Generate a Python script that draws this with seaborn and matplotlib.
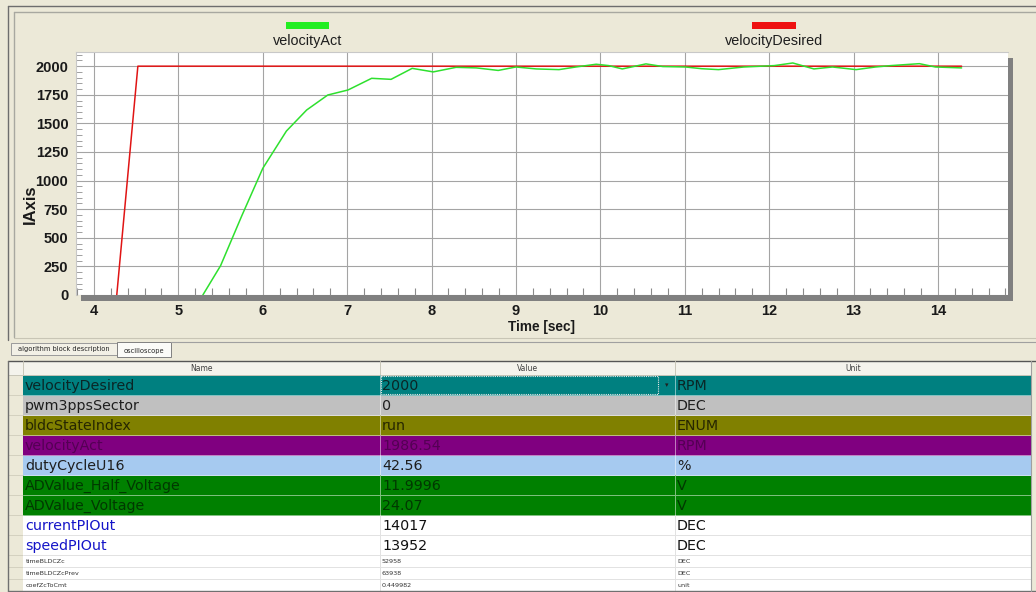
import numpy as np
import pandas as pd
import matplotlib
matplotlib.use("Agg")
import matplotlib.pyplot as plt
import matplotlib.colors as mcolors
import seaborn as sns
from matplotlib.patches import Rectangle
from matplotlib.ticker import MultipleLocator

# ---------------- data ----------------
time_act = [5.29, 5.50, 5.75, 6.00, 6.28, 6.52, 6.77, 7.01, 7.29, 7.52, 7.77, 8.02,
            8.29, 8.53, 8.79, 9.00, 9.24, 9.51, 9.71, 9.95, 10.10, 10.26, 10.54, 10.74,
            11.01, 11.20, 11.40, 11.70, 12.06, 12.28, 12.53, 12.75, 13.03, 13.26, 13.44,
            13.78, 13.97, 14.28]
vel_act = [0, 256, 690, 1107, 1433, 1617, 1748, 1792, 1894, 1885, 1981, 1950,
           1990, 1985, 1963, 1993, 1976, 1970, 1993, 2017, 2005, 1976, 2020, 1997,
           1993, 1978, 1970, 1993, 2005, 2028, 1976, 1993, 1970, 1993, 2005,
           2022, 1993, 1985]
time_des = [4.27, 4.52, 14.28]
vel_des = [0, 2000, 2000]

x_ticks = [4, 5, 6, 7, 8, 9, 10, 11, 12, 13, 14]
y_ticks = [0, 250, 500, 750, 1000, 1250, 1500, 1750, 2000]
series_names = ["velocityAct", "velocityDesired"]

table_header = ["Name", "Value", "Unit"]
names = ["velocityDesired", "pwm3ppsSector", "bldcStateIndex", "velocityAct",
         "dutyCycleU16", "ADValue_Half_Voltage", "ADValue_Voltage", "currentPIOut",
         "speedPIOut", "timeBLDCZc", "timeBLDCZcPrev", "coefZcToCmt"]
values = ["2000", "0", "run", "1986.54", "42.56", "11.9996", "24.07", "14017",
          "13952", "52958", "63938", "0.449982"]
units = ["RPM", "DEC", "ENUM", "RPM", "%", "V", "V", "DEC", "DEC", "DEC", "DEC", "unit"]
tabs = ["algorithm block description", "oscilloscope"]

# ---------------- styles ----------------
BEIGE = "#ECE9D8"
GREEN = "#2EE02E"
RED = "#E01414"
row_bg = ["#008080", "#C0C0C0", "#808000", "#800080", "#A6CAF0", "#008000",
          "#008000", "white", "white", "white", "white", "white"]
name_fg = ["#0A2626", "#1E1E1E", "#262600", "#540054", "#1E1E1E", "#003800",
           "#003800", "#1414C8", "#1414C8", "#333333", "#333333", "#333333"]
val_fg = ["#0A2626", "#1E1E1E", "#262600", "#540054", "#1E1E1E", "#003800",
          "#003800", "#111111", "#111111", "#333333", "#333333", "#333333"]
row_top = [375, 395, 415, 435, 455, 475, 495, 515, 535, 555, 567, 579]
row_h = [20, 20, 20, 20, 20, 20, 20, 20, 20, 12, 12, 12]
col_x = [8, 23, 380, 675, 1031]

W, H = 1036, 592
sns.set_style("white")
plt.rcParams["font.family"] = ["Liberation Sans", "DejaVu Sans"]

fig = plt.figure(figsize=(W / 100, H / 100), dpi=100)
fig.patch.set_facecolor(BEIGE)

ui = fig.add_axes([0, 0, 1, 1], zorder=0)
ui.set_xlim(0, W)
ui.set_ylim(H, 0)
ui.axis("off")
ui.set_facecolor(BEIGE)


def px_rect(l, t, r, b):
    return [l / W, 1 - b / H, (r - l) / W, (b - t) / H]


def lighten(c, f=0.45):
    r, g, b = mcolors.to_rgb(c)
    return (r + (1 - r) * f, g + (1 - g) * f, b + (1 - b) * f)


# ---- top panel frame ----
ui.plot([8, W], [6, 6], color="#6E6E6E", lw=1.0)
ui.plot([14, W], [11.5, 11.5], color="#A8A8A0", lw=1.0)
ui.plot([8, 8], [6, 340], color="#6E6E6E", lw=1.0)
ui.plot([14, 14], [11.5, 337], color="#A8A8A0", lw=1.0)
ui.plot([14, W], [337.5, 337.5], color="#C8C5B5", lw=0.8)

# ---- plot ----
ax = fig.add_axes(px_rect(76, 52, 1008, 295), zorder=2)
ax.set_facecolor("white")
df_act = pd.DataFrame({"time": time_act, "value": vel_act})
df_des = pd.DataFrame({"time": time_des, "value": vel_des})
sns.lineplot(data=df_des, x="time", y="value", color=RED, lw=1.1, ax=ax,
             estimator=None, sort=False, legend=False, zorder=3)
sns.lineplot(data=df_act, x="time", y="value", color=GREEN, lw=1.1, ax=ax,
             estimator=None, sort=False, legend=False, zorder=4)
ax.set_xlim(3.787, 14.83)
ax.set_ylim(0, 2124)
ax.set_xticks(x_ticks)
ax.set_xticklabels([str(v) for v in x_ticks])
ax.set_yticks(y_ticks)
ax.set_yticklabels([str(v) for v in y_ticks])
ax.xaxis.set_minor_locator(MultipleLocator(0.2))
ax.yaxis.set_minor_locator(MultipleLocator(50))
ax.grid(True, which="major", color="#A4A4A4", lw=0.8)
ax.set_axisbelow(True)
ax.set_xlabel("")
ax.set_ylabel("")
for s in ["right", "bottom"]:
    ax.spines[s].set_visible(False)
for s in ["top", "left"]:
    ax.spines[s].set_color("#C8C8C8")
    ax.spines[s].set_linewidth(0.8)
ax.tick_params(axis="x", which="major", length=0, pad=6.5, labelsize=10.5,
               labelcolor="#1A1A1A")
ax.tick_params(axis="x", which="minor", direction="in", length=5, width=0.8,
               color="#8A8A8A", bottom=True)
ax.tick_params(axis="y", which="major", direction="out", length=5, width=0.8,
               color="#8A8A8A", pad=0.5, labelsize=10.5, labelcolor="#1A1A1A")
ax.tick_params(axis="y", which="minor", direction="in", length=4, width=0.7,
               color="#A0A0A0", left=True)
for lab in ax.get_xticklabels() + ax.get_yticklabels():
    lab.set_fontweight("bold")

# gray bottom bar and right shadow
ui.add_patch(Rectangle((81, 295), 932, 6, facecolor="#808080", edgecolor="none"))
ui.add_patch(Rectangle((1008, 58), 5, 243, facecolor="#808080", edgecolor="none"))

# legend
ui.add_patch(Rectangle((286, 22), 43, 7, facecolor="#22EE22", edgecolor="none"))
ui.text(307.5, 41, series_names[0], ha="center", va="center", fontsize=10.4,
        color="#1E1E1E")
ui.add_patch(Rectangle((752, 22), 44, 7, facecolor="#EE1111", edgecolor="none"))
ui.text(774, 41, series_names[1], ha="center", va="center", fontsize=10.4,
        color="#1E1E1E")

# axis titles
ui.text(30, 204, "IAxis", rotation=90, ha="center", va="center", fontsize=12,
        fontweight="bold", color="#1A1A1A")
ui.text(541, 326.5, "Time [sec]", ha="center", va="center", fontsize=9.8,
        fontweight="bold", color="#1A1A1A")

# ---- tabs ----
ui.plot([171, W], [341.5, 341.5], color="#A0A0A0", lw=0.8)
ui.add_patch(Rectangle((11, 343), 106, 12, facecolor="#F2F0E6", edgecolor="#9A9A9A",
                       lw=0.7))
ui.text(64, 349.5, tabs[0], ha="center", va="center", fontsize=4.8,
        family="DejaVu Sans", color="#222222")
ui.add_patch(Rectangle((117, 341.5), 54, 15, facecolor="#FBFBF8", edgecolor="#808080",
                       lw=0.7))
ui.text(144, 351, tabs[1], ha="center", va="center", fontsize=4.8,
        family="DejaVu Sans", color="#222222")

# ---- table ----
TF = "DejaVu Sans"
ui.add_patch(Rectangle((8, 361), W - 8, 231, facecolor="white", edgecolor="none"))
ui.plot([8, W], [361, 361], color="#555555", lw=1.0)
# header
ui.add_patch(Rectangle((8, 361), col_x[-1] - 8, 14, facecolor="#F4F3EC",
                       edgecolor="none"))
for i in range(len(col_x) - 1):
    ui.plot([col_x[i + 1], col_x[i + 1]], [361, 375], color="#C8C6B8", lw=0.7)
for i, h in enumerate(table_header):
    cx = (col_x[i + 1] + col_x[i + 2]) / 2
    ui.text(cx, 368.5, h, ha="center", va="center", fontsize=5.5, family=TF,
            color="#404040")
ui.plot([8, col_x[-1]], [375, 375], color="#C8C6B8", lw=0.7)

for i in range(len(names)):
    top, hh = row_top[i], row_h[i]
    bg = row_bg[i]
    # gutter
    ui.add_patch(Rectangle((8, top), 15, hh, facecolor=BEIGE, edgecolor="#D2CFBE",
                           lw=0.6))
    ui.add_patch(Rectangle((23, top), col_x[-1] - 23, hh, facecolor=bg,
                           edgecolor="none"))
    sep = lighten(bg, 0.5) if bg != "white" else "#E2E2E2"
    ui.plot([23, col_x[-1]], [top + hh, top + hh], color=sep, lw=0.7)
    for cx in col_x[2:4]:
        ui.plot([cx, cx], [top, top + hh], color=sep, lw=0.7)
    big = hh >= 20
    fs = 10.3 if big else 4.6
    yc = top + hh / 2 + (1.0 if big else 0.3)
    ui.text(25 if big else 26, yc, names[i], ha="left", va="center", fontsize=fs,
            family=TF, color=name_fg[i])
    ui.text(382, yc, values[i], ha="left", va="center", fontsize=fs, family=TF,
            color=val_fg[i])
    ui.text(677, yc, units[i], ha="left", va="center", fontsize=fs, family=TF,
            color=val_fg[i])

# selected value cell
ui.add_patch(Rectangle((381, 376), 277, 18, facecolor="none", edgecolor="#E8E8E8",
                       lw=0.8, linestyle=(0, (1, 1))))
ui.text(667, 385, "\u25be", ha="center", va="center", fontsize=5, family=TF,
        color="#202020")
ui.plot([8, W], [591, 591], color="#707070", lw=1.0)
ui.plot([8, 8], [361, 591], color="#707070", lw=1.0)
ui.add_patch(Rectangle((col_x[-1], 361), W - col_x[-1], 231, facecolor=BEIGE,
                       edgecolor="none"))
ui.plot([col_x[-1], col_x[-1]], [361, 591], color="#A0A0A0", lw=0.8)

fig.savefig("out.png", dpi=100, facecolor=BEIGE)
